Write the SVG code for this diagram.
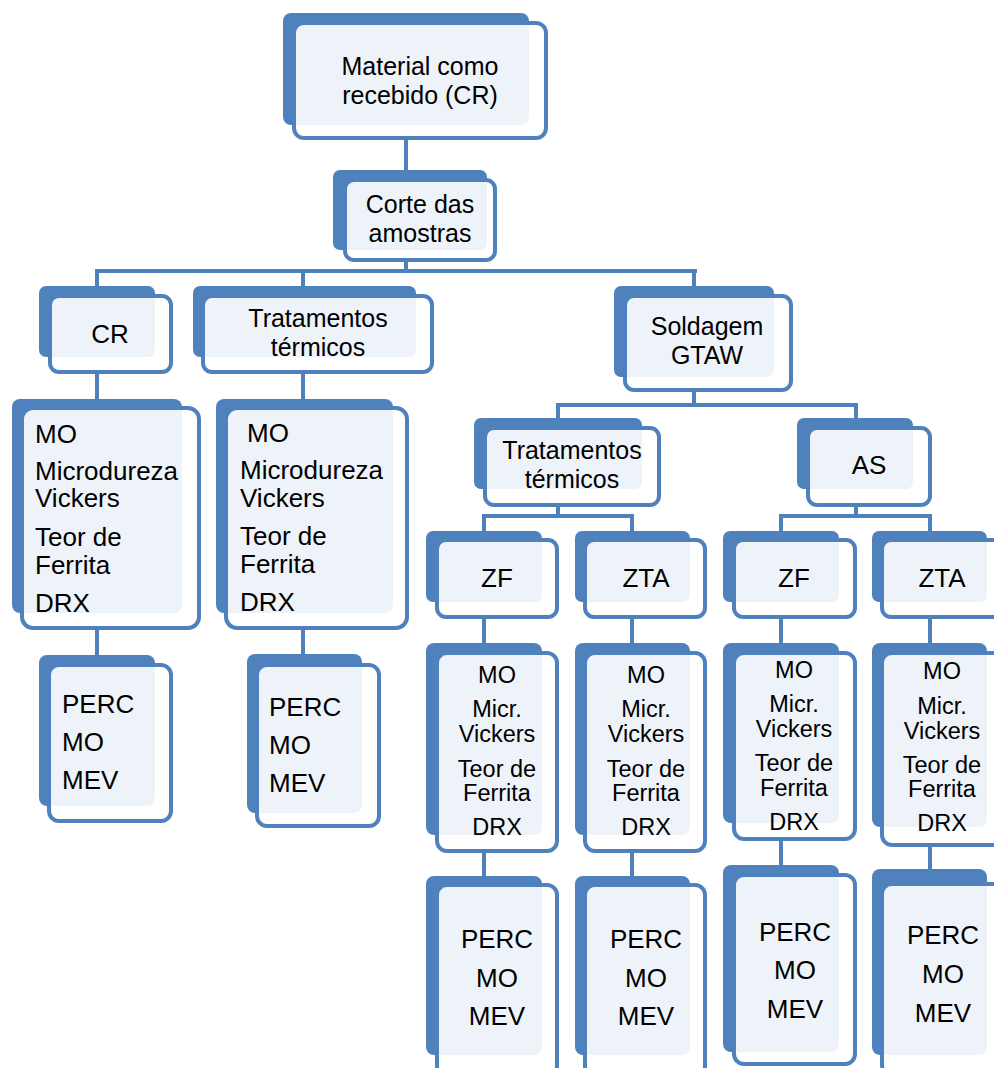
<svg xmlns="http://www.w3.org/2000/svg" width="994" height="1068" viewBox="0 0 994 1068">
<style>
.bk{fill:#4F81BD}
.fr{fill:#FFFFFF;fill-opacity:0.9;stroke:#4F81BD;stroke-width:4}
.cn{fill:none;stroke:#4F81BD;stroke-width:4}
text{font-family:"Liberation Sans",Arial,sans-serif;font-size:26px;fill:#000}
.c{text-anchor:middle}
.s{font-size:23.5px}
.t{font-size:25px}
</style>
<rect width="994" height="1068" fill="#FFFFFF"/>
<g id="connectors">
<path class="cn" d="M406 140V170M406 262V271M97 271H697M97 269V286M303 271V286M694 271V286"/>
<path class="cn" d="M97 374V399M303 374V399M97 630V655M303 630V654"/>
<path class="cn" d="M694 392V405M556 405H858M558 405V418M856 405V418"/>
<path class="cn" d="M558 507V516M482 516H634M484 516V531M632 516V531M856 507V516M779 516H932M781 516V531M930 516V531"/>
<path class="cn" d="M484 619V643M632 619V643M781 619V643M930 619V643"/>
<path class="cn" d="M484 853V876M632 853V876M781 841V865M930 847V869"/>
</g>
<g id="n_material"><rect class="bk" x="283" y="13" width="246" height="112" rx="8"/><rect class="fr" x="294" y="23" width="252" height="115" rx="10"/><text class="c t" x="420" y="75">Material como</text><text class="c t" x="420" y="104">recebido (CR)</text></g>
<g id="n_corte"><rect class="bk" x="333" y="170" width="154" height="80" rx="7"/><rect class="fr" x="345" y="180" width="150" height="80" rx="9"/><text class="c t" x="420" y="213">Corte das</text><text class="c t" x="420" y="242">amostras</text></g>
<g id="n_cr"><rect class="bk" x="39" y="286" width="116" height="71" rx="7"/><rect class="fr" x="50" y="296" width="121" height="76" rx="9"/><text class="c" x="110" y="343">CR</text></g>
<g id="n_tt1"><rect class="bk" x="193" y="286" width="223" height="71" rx="7"/><rect class="fr" x="203" y="296" width="229" height="76" rx="9"/><text class="c t" x="318" y="327">Tratamentos</text><text class="c t" x="318" y="356">térmicos</text></g>
<g id="n_sold"><rect class="bk" x="614" y="286" width="160" height="91" rx="7"/><rect class="fr" x="625" y="296" width="166" height="94" rx="9"/><text class="c t" x="707" y="335">Soldagem</text><text class="c t" x="707" y="364">GTAW</text></g>
<g id="n_cr_tests"><rect class="bk" x="12" y="399" width="170" height="214" rx="8"/><rect class="fr" x="22" y="408" width="177" height="220" rx="11"/><text x="35" y="443">MO</text><text x="35" y="480">Microdureza</text><text x="35" y="507">Vickers</text><text x="35" y="546">Teor de</text><text x="35" y="574">Ferrita</text><text x="35" y="612">DRX</text></g>
<g id="n_tt1_tests"><rect class="bk" x="216" y="399" width="177" height="214" rx="8"/><rect class="fr" x="226" y="408" width="181" height="220" rx="11"/><text x="247" y="442">MO</text><text x="240" y="479">Microdureza</text><text x="240" y="507">Vickers</text><text x="240" y="545">Teor de</text><text x="240" y="573">Ferrita</text><text x="240" y="611">DRX</text></g>
<g id="n_cr_perc"><rect class="bk" x="39" y="655" width="116" height="151" rx="8"/><rect class="fr" x="49" y="665" width="122" height="156" rx="10"/><text x="62" y="713">PERC</text><text x="62" y="751">MO</text><text x="62" y="789">MEV</text></g>
<g id="n_tt1_perc"><rect class="bk" x="247" y="654" width="115" height="159" rx="8"/><rect class="fr" x="257" y="665" width="122" height="161" rx="10"/><text x="269" y="716">PERC</text><text x="269" y="754">MO</text><text x="269" y="792">MEV</text></g>
<g id="n_tt2"><rect class="bk" x="474" y="418" width="168" height="71" rx="7"/><rect class="fr" x="485" y="428" width="174" height="77" rx="9"/><text class="c t" x="572" y="459">Tratamentos</text><text class="c t" x="572" y="488">térmicos</text></g>
<g id="n_as"><rect class="bk" x="797" y="418" width="116" height="71" rx="7"/><rect class="fr" x="808" y="428" width="122" height="77" rx="9"/><text class="c" x="869" y="474">AS</text></g>
<g id="n_zf1"><rect class="bk" x="426" y="531" width="116" height="71" rx="7"/><rect class="fr" x="437" y="540" width="120" height="77" rx="9"/><text class="c" x="497" y="587">ZF</text></g>
<g id="n_zta1"><rect class="bk" x="575" y="531" width="115" height="71" rx="7"/><rect class="fr" x="585" y="540" width="120" height="77" rx="9"/><text class="c" x="646" y="587">ZTA</text></g>
<g id="n_zf2"><rect class="bk" x="723" y="531" width="116" height="71" rx="7"/><rect class="fr" x="734" y="540" width="121" height="77" rx="9"/><text class="c" x="794" y="587">ZF</text></g>
<g id="n_zta2"><rect class="bk" x="872" y="531" width="115" height="71" rx="7"/><rect class="fr" x="882" y="540" width="121" height="77" rx="9"/><text class="c" x="942" y="587">ZTA</text></g>
<g id="n_zf1_tests"><rect class="bk" x="426" y="643" width="116" height="192" rx="8"/><rect class="fr" x="437" y="653" width="120" height="198" rx="10"/><text class="c s" x="497" y="683">MO</text><text class="c s" x="497" y="717">Micr.</text><text class="c s" x="497" y="742">Vickers</text><text class="c s" x="497" y="777">Teor de</text><text class="c s" x="497" y="801">Ferrita</text><text class="c s" x="497" y="835">DRX</text></g>
<g id="n_zta1_tests"><rect class="bk" x="575" y="643" width="115" height="192" rx="8"/><rect class="fr" x="585" y="653" width="120" height="198" rx="10"/><text class="c s" x="646" y="683">MO</text><text class="c s" x="646" y="717">Micr.</text><text class="c s" x="646" y="742">Vickers</text><text class="c s" x="646" y="777">Teor de</text><text class="c s" x="646" y="801">Ferrita</text><text class="c s" x="646" y="835">DRX</text></g>
<g id="n_zf2_tests"><rect class="bk" x="723" y="643" width="116" height="180" rx="8"/><rect class="fr" x="734" y="653" width="121" height="186" rx="10"/><text class="c s" x="794" y="678">MO</text><text class="c s" x="794" y="712">Micr.</text><text class="c s" x="794" y="737">Vickers</text><text class="c s" x="794" y="771">Teor de</text><text class="c s" x="794" y="796">Ferrita</text><text class="c s" x="794" y="830">DRX</text></g>
<g id="n_zta2_tests"><rect class="bk" x="872" y="643" width="115" height="184" rx="8"/><rect class="fr" x="882" y="653" width="121" height="192" rx="10"/><text class="c s" x="942" y="679">MO</text><text class="c s" x="942" y="714">Micr.</text><text class="c s" x="942" y="739">Vickers</text><text class="c s" x="942" y="773">Teor de</text><text class="c s" x="942" y="797">Ferrita</text><text class="c s" x="942" y="831">DRX</text></g>
<g id="n_zf1_perc"><rect class="bk" x="426" y="876" width="116" height="179" rx="8"/><rect class="fr" x="437" y="885" width="120" height="191" rx="10"/><text class="c" x="497" y="948">PERC</text><text class="c" x="497" y="987">MO</text><text class="c" x="497" y="1025">MEV</text></g>
<g id="n_zta1_perc"><rect class="bk" x="575" y="876" width="115" height="179" rx="8"/><rect class="fr" x="585" y="885" width="120" height="191" rx="10"/><text class="c" x="646" y="948">PERC</text><text class="c" x="646" y="987">MO</text><text class="c" x="646" y="1025">MEV</text></g>
<g id="n_zf2_perc"><rect class="bk" x="723" y="865" width="116" height="187" rx="8"/><rect class="fr" x="734" y="875" width="121" height="189" rx="10"/><text class="c" x="795" y="941">PERC</text><text class="c" x="795" y="979">MO</text><text class="c" x="795" y="1018">MEV</text></g>
<g id="n_zta2_perc"><rect class="bk" x="872" y="869" width="115" height="186" rx="8"/><rect class="fr" x="882" y="884" width="121" height="191" rx="10"/><text class="c" x="943" y="944">PERC</text><text class="c" x="943" y="983">MO</text><text class="c" x="943" y="1022">MEV</text></g>
</svg>
